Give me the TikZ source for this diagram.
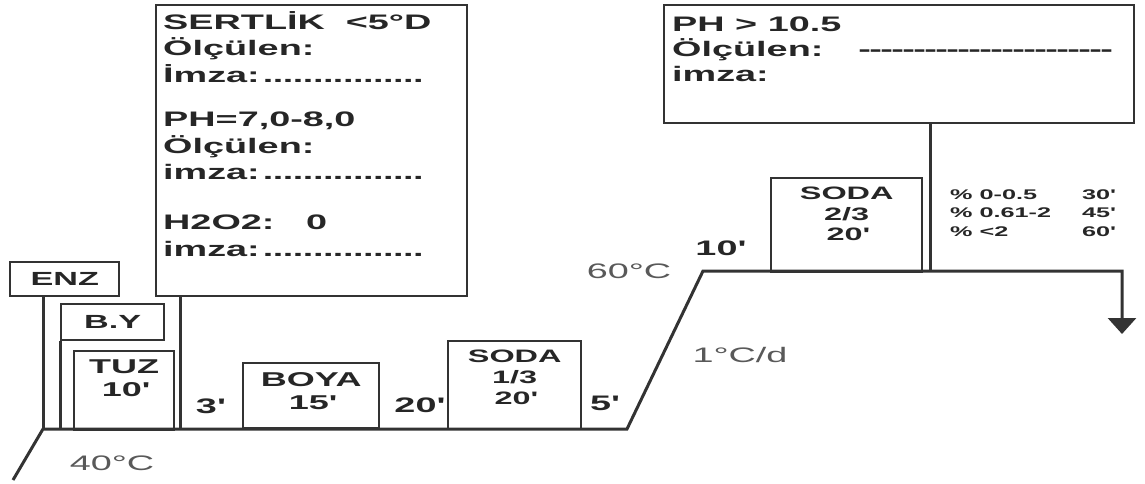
\documentclass[tikz,border=0pt]{standalone}
\usepackage{fontspec}
\setmainfont{Liberation Sans}[FakeStretch=1.8]
\usetikzlibrary{arrows.meta}
\newcommand{\dak}{\textquotesingle}
\newcommand{\noktalar}{\leaders\hbox to 10pt{\hss.\hss}\hfill}
\newcommand{\cizgiler}{\leaders\hbox to 11pt{\hss-\hss}\hfill}

\begin{document}
\begin{tikzpicture}[x=1pt,y=-1pt,
  box/.style={draw=black!80,line width=2.4pt,inner sep=0pt,anchor=north west},
  line/.style={draw=black!80,line width=3pt},
  yazi/.style={text=black!85,inner sep=0pt,font=\bfseries\fontsize{21}{26.5}\selectfont},
  kutuyazi/.style={text=black!85,inner sep=0pt,align=center,anchor=north},
  sure/.style={text=black!85,inner sep=0pt,anchor=base,font=\bfseries\fontsize{21}{26}\selectfont},
  sicaklik/.style={text=black!65,inner sep=0pt,anchor=base,font=\fontsize{21}{26}\selectfont}]
\useasboundingbox (0,0) rectangle (1145,483);

% temperature profile
\coordinate (a) at (13,480);
\coordinate (b) at (43,429);
\coordinate (c) at (627,429);
\coordinate (d) at (703,271);
\coordinate (e) at (1122,271);
\coordinate (f) at (1122,334);
\draw[line,line join=miter,-{Triangle[width=28pt,length=16pt]}] (a) -- (b) -- (c) -- (d) -- (e) -- (f);

% check boxes
\node[box,minimum width=311,minimum height=291] (sertlik) at (155,4) {};
\node[yazi,anchor=north west,align=left] at ([shift={(8,7)}]sertlik.north west)
  {SERTLİK\ \ <5°D\\
   Ölçülen:\\
   \makebox[263pt][l]{İmza:\noktalar}\\[18pt]
   PH=7,0-8,0\\
   Ölçülen:\\
   \makebox[263pt][l]{imza:\noktalar}\\[23.5pt]
   H2O2:\ \ \ 0\\
   \makebox[263pt][l]{imza:\noktalar}};
\node[box,minimum width=470,minimum height=118] (ph) at (663,4) {};
\node[yazi,anchor=north west,align=left,font=\bfseries\fontsize{21}{25}\selectfont]
  at ([shift={(9,13)}]ph.north west)
  {PH > 10.5\\
   \makebox[450pt][l]{Ölçülen:\hspace{35pt}\cizgiler}\\
   imza:};

% chemical boxes
\node[box,minimum width=109,minimum height=34,text=black!85,
  font=\bfseries\fontsize{19}{22}\selectfont] (enz) at (9,261) {ENZ};
\node[box,minimum width=103,minimum height=36,text=black!85,
  font=\bfseries\fontsize{19}{22}\selectfont] (by) at (60,303) {B.Y};
\node[box,minimum width=100,minimum height=79] (tuz) at (73,350) {};
\node[kutuyazi,font=\bfseries\fontsize{20}{23}\selectfont] at ([yshift=-10pt]tuz.north) {TUZ\\10\dak};
\node[box,minimum width=136,minimum height=65] (boya) at (242,362) {};
\node[kutuyazi,font=\bfseries\fontsize{20}{23}\selectfont] at ([yshift=-10pt]boya.north) {BOYA\\15\dak};
\node[box,minimum width=133,minimum height=88] (soda1) at (447,340) {};
\node[kutuyazi,font=\bfseries\fontsize{18}{21}\selectfont] at ([yshift=-10pt]soda1.north) {SODA\\1/3\\20\dak};
\node[box,minimum width=151,minimum height=94] (soda2) at (770,177) {};
\node[kutuyazi,font=\bfseries\fontsize{18}{20.5}\selectfont] at ([yshift=-10pt]soda2.north) {SODA\\2/3\\20\dak};

% connectors to the profile
\coordinate (s) at (180,429);
\coordinate (p) at (930,271);
\draw[line] (enz.south -| b) -- (b);
\draw[line] (by.south west) -- (by.south west |- b);
\draw[line] (s |- sertlik.south) -- (s);
\draw[line] (p |- ph.south) -- (p);

% times and temperatures
\node[sure] (t3) at (209,413) {3\dak};
\node[sure] (t20) at (418,412) {20\dak};
\node[sure] (t5) at (603,410) {5\dak};
\node[sure] (t10) at (719,255) {10\dak};
\node[sicaklik] (s40) at (112,470) {40°C};
\node[sicaklik] (s60) at (629,278) {60°C};
\node[sicaklik] (hiz) at (740,362) {1°C/d};

% duration table
\node[text=black!85,inner sep=0pt,anchor=west,font=\bfseries\fontsize{14}{18.5}\selectfont] (tablo) at (950,214)
  {\begin{tabular}{@{}p{132pt}@{}l@{}}
   \% 0-0.5 & 30\dak\\
   \% 0.61-2 & 45\dak\\
   \% <2 & 60\dak
   \end{tabular}};
\end{tikzpicture}
\end{document}
